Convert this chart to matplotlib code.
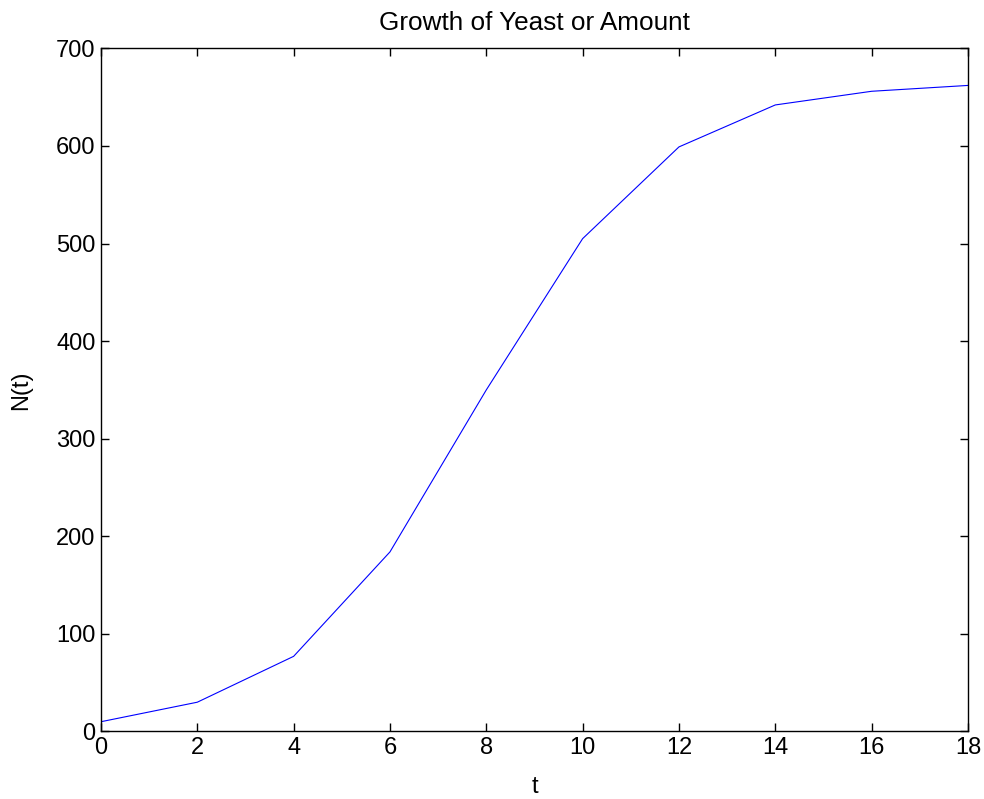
import matplotlib
matplotlib.use("Agg")
import matplotlib.pyplot as plt

# values
t_values = [0, 2, 4, 6, 8, 10, 12, 14, 16, 18]
n_values = [10, 30, 77, 184, 350, 505, 599, 642, 656, 662]
x_ticks = [0, 2, 4, 6, 8, 10, 12, 14, 16, 18]
y_ticks = [0, 100, 200, 300, 400, 500, 600, 700]

plt.rcParams['font.family'] = ['Liberation Sans', 'DejaVu Sans']

fig = plt.figure(figsize=(9.84, 7.99), dpi=100)
ax = fig.add_axes([0.1026, 0.0845, 0.8811, 0.855])
ax.plot(t_values, n_values, color='#0000ff', linewidth=0.8)

ax.set_xlim(0, 18)
ax.set_ylim(0, 700)
ax.set_xticks(x_ticks)
ax.set_yticks(y_ticks)
ax.tick_params(direction='in', length=6, width=1, labelsize=17,
               top=True, right=True, pad=4)
for spine in ax.spines.values():
    spine.set_linewidth(1)

ax.set_title("Growth of Yeast or Amount", fontsize=18.8, pad=13)
ax.set_xlabel("t", fontsize=17, labelpad=12)
ax.set_ylabel("N(t)", fontsize=17, labelpad=17)

fig.savefig("out.png", dpi=100)
